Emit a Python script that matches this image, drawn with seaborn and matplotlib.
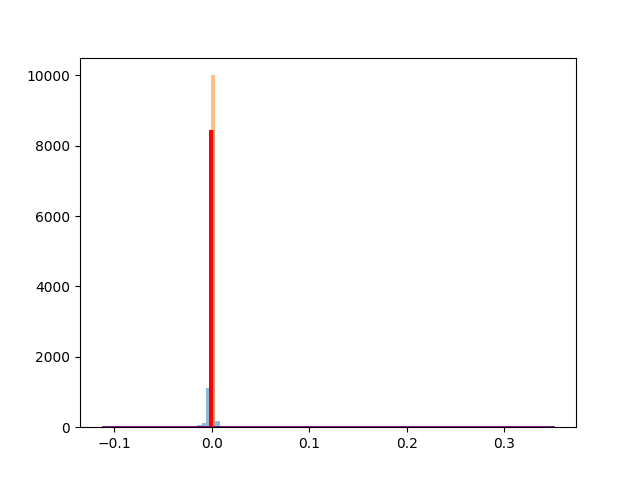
import numpy as np
import pandas as pd
import matplotlib
matplotlib.use("Agg")
import matplotlib.pyplot as plt
import seaborn as sns

# histogram range shared by the blue and orange series
bin_lo, bin_hi, n_bins = -0.1119, 0.3506, 100

# blue series: counts in the non-empty bins (bin index -> count)
blue_bin_idx = [21, 22, 23, 24, 25]
blue_counts = [60, 110, 1117, 8446, 170]

# orange series: one full bin
orange_bin_idx = [24]
orange_counts = [10000]

# red bar
red_edges = [-0.0024, 0.0018]
red_counts = [8446]

# purple baseline line
purple_x = [-0.1119, 0.3506]
purple_y = [0, 0]

edges = np.linspace(bin_lo, bin_hi, n_bins + 1)
centers = (edges[:-1] + edges[1:]) / 2
bin_list = edges.tolist()

blue = pd.DataFrame({"x": centers[blue_bin_idx], "n": blue_counts})
orange = pd.DataFrame({"x": centers[orange_bin_idx], "n": orange_counts})
red = pd.DataFrame({"x": [np.mean(red_edges)], "n": red_counts})

fig, ax = plt.subplots(figsize=(6.4, 4.8), dpi=100)

sns.histplot(data=blue, x="x", weights="n", bins=bin_list, color="C0",
             alpha=0.5, linewidth=0, ax=ax)
sns.histplot(data=orange, x="x", weights="n", bins=bin_list, color="C1",
             alpha=0.5, linewidth=0, ax=ax)
sns.histplot(data=red, x="x", weights="n", bins=red_edges, color="red",
             alpha=1.0, linewidth=0, ax=ax)
sns.lineplot(x=purple_x, y=purple_y, color="purple", linewidth=2, ax=ax)

ax.set_xlabel("")
ax.set_ylabel("")
ax.set_yticks([0, 2000, 4000, 6000, 8000, 10000])

fig.savefig("out.png", dpi=100)
